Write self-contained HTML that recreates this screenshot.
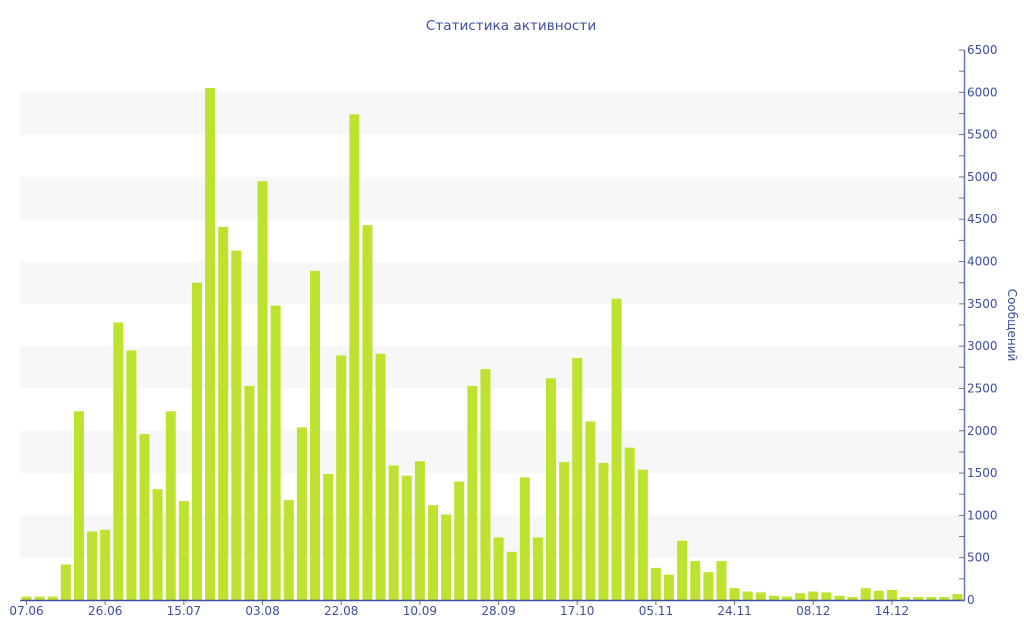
<!DOCTYPE html>
<html><head><meta charset="utf-8"><style>
html,body{margin:0;padding:0;background:#fff;}
svg{display:block;font-family:"DejaVu Sans","Liberation Sans",sans-serif;}
</style></head><body>
<svg id="c" width="1024" height="640" xmlns="http://www.w3.org/2000/svg">
<text x="511" y="30" text-anchor="middle" font-size="13.6" fill="#3d4f9e">Статистика активности</text>
<text transform="translate(1008,325) rotate(90)" text-anchor="middle" font-size="12" fill="#3d4f9e">Сообщений</text>
</svg>
<script>
var s=document.getElementById('c'),NS='http://www.w3.org/2000/svg';
function el(t,a,txt){var e=document.createElementNS(NS,t);for(var k in a)e.setAttribute(k,a[k]);if(txt)e.textContent=txt;s.appendChild(e);return e;}
function Y(v){return 600-v*550/6500;}
for(var v=500;v<6500;v+=1000){el('rect',{x:20,y:Y(v+500),width:944,height:Y(v)-Y(v+500),fill:'#f7f7f7'});}
var d=[40,40,40,420,2230,810,830,3280,2950,1960,1310,2230,1170,3750,6050,4410,4130,2530,4950,3480,1180,2040,3890,1490,2890,5740,4430,2910,1590,1470,1640,1120,1010,1400,2530,2730,740,570,1450,740,2620,1630,2860,2110,1620,3560,1800,1540,380,300,700,460,330,460,140,100,90,50,40,80,100,90,50,20,140,110,120,30,20,20,20,70];
var step=(957-26)/71;
d.forEach(function(v,i){var cx=26.5+i*step;var h=Math.max(600-Y(v),3);el('rect',{x:cx-5,y:600-h,width:10,height:h,fill:'#bde22f'});});
el('line',{x1:20,y1:600.5,x2:965,y2:600.5,stroke:'#3d4f9e','stroke-width':1.5});
el('line',{x1:964.5,y1:50,x2:964.5,y2:601,stroke:'#6475b5','stroke-width':1.5});
for(var v=0;v<=6500;v+=250){var y=Y(v);el('line',{x1:959,y1:y,x2:964,y2:y,stroke:'#777','stroke-width':1});if(v%500==0)el('text',{x:967,y:y+4,'font-size':12,fill:'#3d4f9e'},String(v));}
var labs=['07.06','26.06','15.07','03.08','22.08','10.09','28.09','17.10','05.11','24.11','08.12','14.12'];
labs.forEach(function(l,j){var x=26.5+j*6*step;el('line',{x1:x,y1:601,x2:x,y2:605,stroke:'#777'});el('text',{x:x,y:615,'font-size':12,fill:'#3d4f9e','text-anchor':'middle'},l);});
</script>
</body></html>
